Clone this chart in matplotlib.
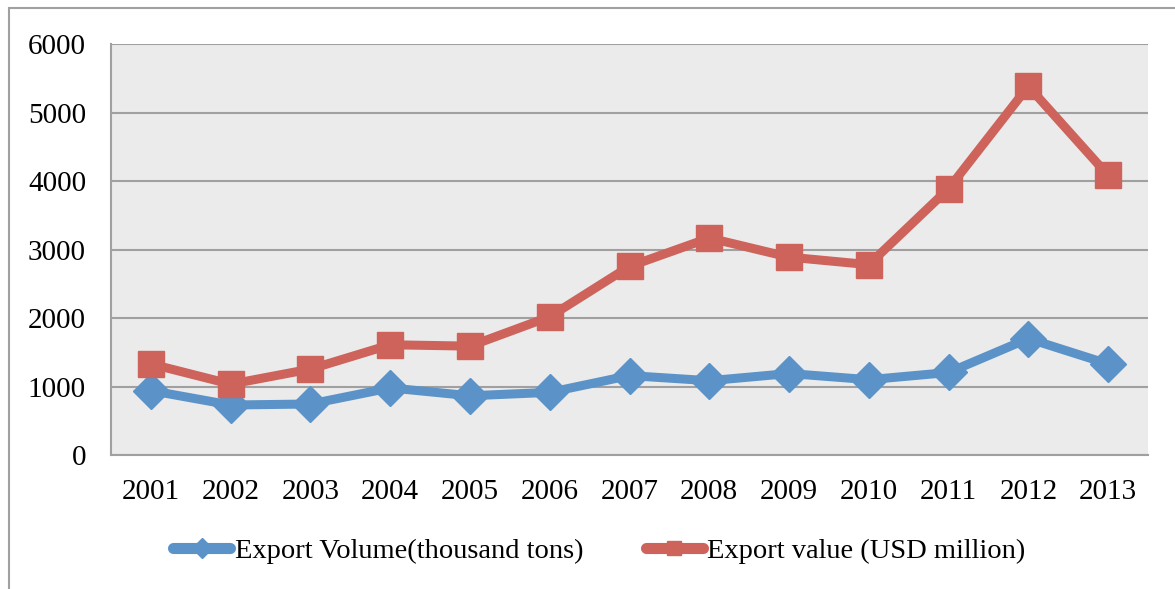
import matplotlib.pyplot as plt
from matplotlib.patches import Rectangle

years = ['2001', '2002', '2003', '2004', '2005', '2006', '2007',
         '2008', '2009', '2010', '2011', '2012', '2013']
volume = [940, 730, 745, 980, 865, 915, 1160, 1085, 1190, 1100, 1205, 1700, 1330]
value = [1330, 1035, 1255, 1610, 1590, 2020, 2755, 3170, 2890, 2780, 3890, 5385, 4085]
yticks = [0, 1000, 2000, 3000, 4000, 5000, 6000]

plt.rcParams['font.family'] = ['Liberation Serif', 'DejaVu Serif']

blue = '#5B93C8'
red = '#CD635B'
grey = '#A0A0A0'

fig = plt.figure(figsize=(11.75, 5.89), dpi=100)
ax = fig.add_axes([0.0945, 0.2275, 0.8825, 0.6975])
ax.set_facecolor('#EBEBEB')

x = list(range(len(years)))
ax.plot(x, volume, color=blue, lw=6.5, marker='D', ms=18,
        label='Export Volume(thousand tons)', zorder=3)
ax.plot(x, value, color=red, lw=6.5, marker='s', ms=19,
        label='Export value (USD million)', zorder=3)

ax.set_xlim(-0.5, len(years) - 0.5)
ax.set_ylim(0, 6000)
ax.set_xticks(x)
ax.set_xticklabels(years)
ax.set_yticks(yticks)
ax.set_yticklabels([str(t) for t in yticks])
ax.tick_params(length=0, labelsize=21)
ax.tick_params(axis='y', pad=18)
ax.tick_params(axis='x', pad=17)
ax.grid(axis='y', color=grey, lw=1.5)
ax.set_axisbelow(True)
for s in ['top', 'right']:
    ax.spines[s].set_visible(False)
for s in ['left', 'bottom']:
    ax.spines[s].set_color(grey)
    ax.spines[s].set_linewidth(1.5)

leg = fig.legend(loc='center', bbox_to_anchor=(0.51, 0.064), ncol=2, frameon=False,
                 fontsize=20.5, handlelength=2.0, handletextpad=0.15,
                 columnspacing=2.2, markerscale=0.55)
for h in leg.legend_handles:
    h.set_linewidth(8)
    h.set_solid_capstyle('round')

# outer chart frame (cropped on right and bottom)
fig.patches.append(Rectangle((9 / 1175, -0.1), 1.2, 1.1 - 8 / 589,
                             transform=fig.transFigure, fill=False,
                             edgecolor=grey, lw=1.5))

fig.savefig('out.png')
